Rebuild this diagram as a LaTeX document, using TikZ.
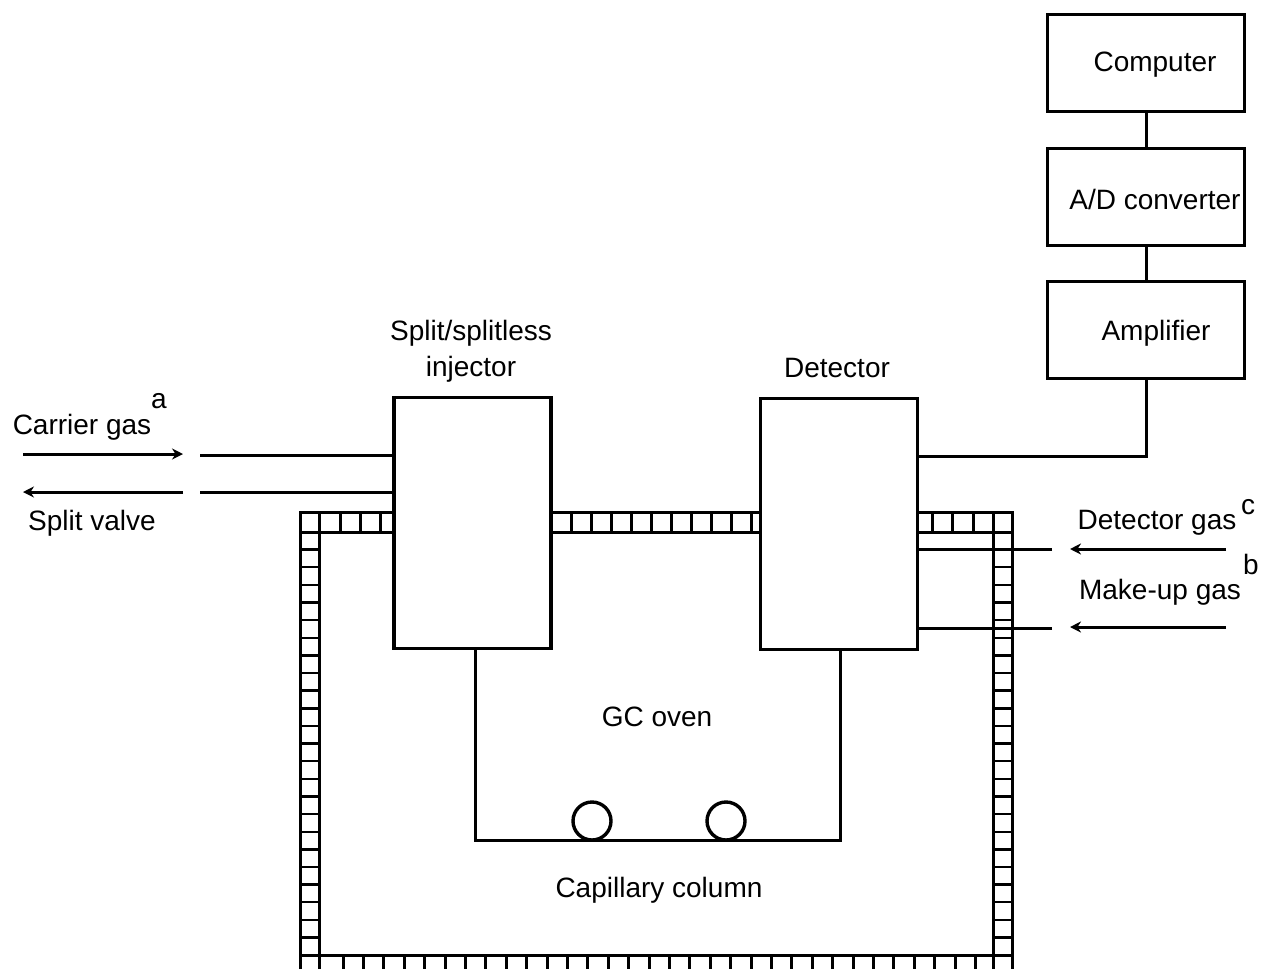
\documentclass[tikz,border=0pt]{standalone}
\usepackage{fontspec}
\setmainfont{Liberation Sans}
\usetikzlibrary{arrows.meta,positioning}
\tikzset{
  unitbox/.style={draw,line width=1.8pt,minimum width=98.5pt,minimum height=48.5pt,inner sep=0pt},
  portbox/.style={draw,line width=1.8pt,minimum width=78.5pt,minimum height=125.5pt,inner sep=0pt},
  coil/.style={draw,circle,line width=1.7pt,minimum size=19pt,inner sep=0pt},
  label/.style={inner sep=0pt,align=center},
  pipe/.style={line width=1.5pt},
  flow/.style={line width=1.5pt,-{Stealth[length=5.5pt,width=5.5pt]}},
  wall/.style={line width=1.5pt},
  rung/.style={line width=1.2pt}
}
\begin{document}
\begin{tikzpicture}[x=.5pt,y=-.5pt,font=\fontsize{14}{18}\selectfont]
\useasboundingbox[fill=white] (0,0) rectangle (1263,969);
\node[unitbox] (computer) at (1146,63) {};
\node[unitbox] (converter) at (1146,197) {};
\node[unitbox] (amplifier) at (1146,330) {};
\node[label] at (1155,65) {Computer};
\node[label] at (1155,199) {A/D converter};
\node[label] at (1156,333) {Amplifier};
\node[portbox] (injector) at (472.5,523) {};
\node[portbox] (detector) at (839,524) {};
\node[label] (injectorname) at (471,351) {Split/splitless\\injector};
\node[label] (detectorname) at (837,368) {Detector};
\draw[pipe] (computer) -- (converter);
\draw[pipe] (converter) -- (amplifier);
\draw[pipe] (detector.east |- 0,456) -- (1146,456) -- (amplifier.south);
% oven wall
\draw[wall] (300,969) -- (300,512) -- (394,512) (319,969) -- (319,512) (300,532) -- (394,532);
\draw[wall] (551,512) -- (761,512) (551,532) -- (761,532);
\draw[wall] (917,512) -- (1012,512) -- (1012,969) (917,532) -- (1012,532) (993,512) -- (993,969);
\draw[wall] (300,955) -- (1012,955);
\foreach \x in {340,360,380} \draw[wall] (\x,512) -- (\x,532);
\foreach \x in {571,591,...,751} \draw[wall] (\x,512) -- (\x,532);
\foreach \x in {932,952,973} \draw[wall] (\x,512) -- (\x,532);
\foreach \i in {1,...,23} {
  \pgfmathsetmacro{\y}{532+\i*17.63}
  \draw[rung] (300,\y) -- (319,\y);
  \draw[rung] (993,\y) -- (1012,\y);
}
\foreach \i in {0,...,31} {
  \pgfmathsetmacro{\x}{343+\i*20.4}
  \draw[wall] (\x,955) -- (\x,969);
}
% gas lines
\coordinate (carrierstart) at (23,454);
\coordinate (carrierend) at (183,454);
\coordinate (carrierline) at (200,455);
\coordinate (splitstart) at (183,492);
\coordinate (splitend) at (23,492);
\coordinate (splitline) at (200,492);
\coordinate (detgasstart) at (1226,549);
\coordinate (detgasend) at (1070,549);
\coordinate (detgasline) at (1052,549);
\coordinate (makeupstart) at (1226,627);
\coordinate (makeupend) at (1070,627);
\coordinate (makeupline) at (1052,628);
\draw[flow] (carrierstart) -- (carrierend);
\draw[pipe] (carrierline) -- (injector.west |- carrierline);
\draw[flow] (splitstart) -- (splitend);
\draw[pipe] (splitline) -- (injector.west |- splitline);
\draw[flow] (detgasstart) -- (detgasend);
\draw[pipe] (detgasline) -- (detector.east |- detgasline);
\draw[flow] (makeupstart) -- (makeupend);
\draw[pipe] (makeupline) -- (detector.east |- makeupline);
\node[label] at (82,427) {Carrier gas};
\node[label] at (159,401) {a};
\node[label] at (92,523) {Split valve};
\node[label] at (1157,523) {Detector gas};
\node[label] at (1248,507) {c};
\node[label] at (1251,564) {b};
\node[label] at (1160,592) {Make-up gas};
% column
\node[coil] (coilA) at (592,821) {};
\node[coil] (coilB) at (726,821) {};
\draw[pipe] (475,648) -- (475,840) -- (840,840) -- (840,650);
\node[label] at (657,717) {GC oven};
\node[label] at (659,890) {Capillary column};
\end{tikzpicture}
\end{document}
